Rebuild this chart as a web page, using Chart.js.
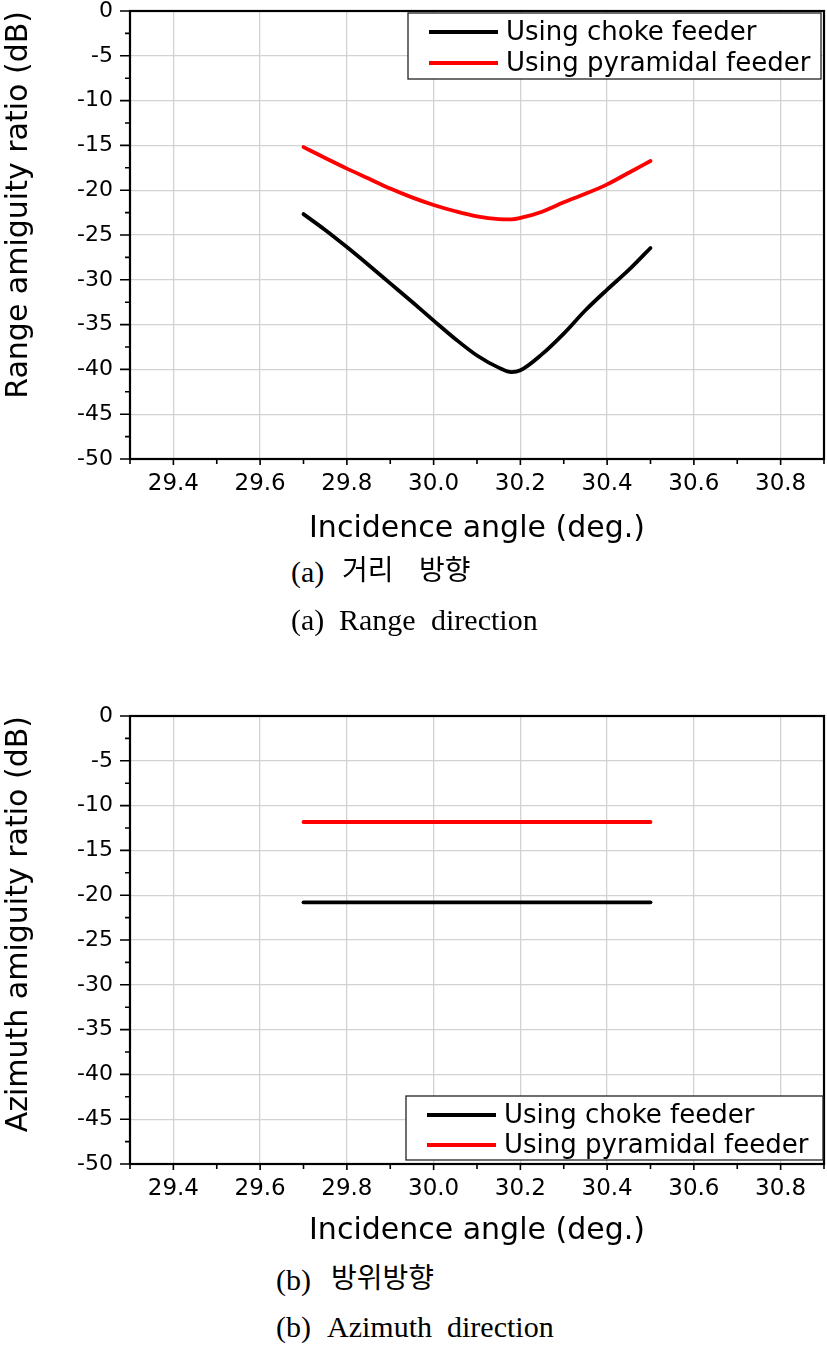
<!DOCTYPE html>
<html><head><meta charset="utf-8">
<script src="https://cdn.jsdelivr.net/npm/chart.js@4"></script>
<style>
body{margin:0;background:#fff;width:827px;height:1345px;position:relative;overflow:hidden}
canvas{position:absolute;left:0}
.w{position:absolute;color:#000;white-space:pre;line-height:1}
.s{font-family:"Liberation Serif","Times New Roman",serif;font-size:30px}
.k{font-family:"Noto Sans CJK KR",sans-serif;font-size:28px}
</style></head><body>
<canvas id="c1" width="827" height="550" style="top:0"></canvas>
<canvas id="c2" width="827" height="547" style="top:705px"></canvas>

<span class="w s" style="left:291px;top:557px">(a)</span>
<span class="w k" style="left:342px;top:554px">거리</span>
<span class="w k" style="left:419px;top:554px">방향</span>
<span class="w s" style="left:291px;top:605px">(a)</span>
<span class="w s" style="left:339px;top:605px">Range</span>
<span class="w s" style="left:431px;top:605px">direction</span>

<span class="w s" style="left:276px;top:1265px">(b)</span>
<span class="w k" style="left:331px;top:1262px">방위방향</span>
<span class="w s" style="left:276px;top:1312px">(b)</span>
<span class="w s" style="left:327px;top:1312px">Azimuth</span>
<span class="w s" style="left:447px;top:1312px">direction</span>

<script>
// ---- data ----
const rangeAngles = [29.7, 29.75, 29.8, 29.85, 29.9, 29.95, 30.0, 30.05, 30.1, 30.15, 30.18, 30.2, 30.25, 30.3, 30.35, 30.4, 30.45, 30.5];
const rangeChoke = [-22.67, -24.44, -26.35, -28.35, -30.4, -32.45, -34.55, -36.6, -38.45, -39.8, -40.3, -40.1, -38.3, -36.0, -33.4, -31.1, -28.9, -26.45];
const rangePyramidal = [-15.19, -16.41, -17.59, -18.70, -19.81, -20.8, -21.65, -22.35, -22.92, -23.22, -23.25, -23.1, -22.4, -21.35, -20.4, -19.35, -18.05, -16.74];

const azAngles = [29.7, 30.5];
const azChoke = [-20.8, -20.8];
const azPyramidal = [-11.83, -11.83];

const seriesLabels = ['Using choke feeder', 'Using pyramidal feeder'];
const xTicks = [29.4, 29.6, 29.8, 30.0, 30.2, 30.4, 30.6, 30.8];
const yTicks = [0, -5, -10, -15, -20, -25, -30, -35, -40, -45, -50];
const xMin = 29.3, xMax = 30.9, yMin = -50, yMax = 0;

// minor tick positions (every 0.1 on x, every 2.5 on y)
const xMinor = []; for (let i = 0; i <= 16; i++) xMinor.push(+(xMin + i * 0.1).toFixed(2));
const yMinor = []; for (let i = 0; i <= 20; i++) yMinor.push(yMax - i * 2.5);

const SANS = '"DejaVu Sans", sans-serif';

const frameTicks = {
  id: 'frameTicks',
  afterDraw(chart) {
    const {ctx, chartArea: a, scales: {x, y}} = chart;
    ctx.save();
    ctx.strokeStyle = '#000';
    ctx.lineWidth = 1.6;
    ctx.beginPath();
    xMinor.forEach(v => {
      const px = x.getPixelForValue(v);
      const major = Math.abs(Math.round(v * 10)) % 2 === 0;
      ctx.moveTo(px, a.bottom); ctx.lineTo(px, a.bottom + (major ? 6 : 5));
    });
    yMinor.forEach(v => {
      const py = y.getPixelForValue(v);
      const major = v % 5 === 0;
      ctx.moveTo(a.left, py); ctx.lineTo(a.left - (major ? 10 : 5), py);
    });
    ctx.stroke();
    ctx.lineWidth = 2.2;
    ctx.strokeRect(a.left, a.top, a.right - a.left, a.bottom - a.top);
    ctx.restore();
  }
};

const boxLegend = {
  id: 'boxLegend',
  afterDraw(chart, args, o) {
    const {ctx, chartArea: a} = chart;
    const left = a.right - o.right - o.w;
    const top = o.corner === 'top' ? a.top + o.offset : a.bottom - o.offset - o.h;
    ctx.save();
    ctx.fillStyle = '#fff';
    ctx.fillRect(left, top, o.w, o.h);
    ctx.strokeStyle = '#222';
    ctx.lineWidth = 1.3;
    ctx.strokeRect(left, top, o.w, o.h);
    ctx.font = '26px ' + SANS;
    ctx.textBaseline = 'middle';
    chart.data.datasets.forEach((ds, i) => {
      const yy = top + o.row0 + i * o.rowGap;
      ctx.strokeStyle = ds.borderColor;
      ctx.lineWidth = 4;
      ctx.beginPath(); ctx.moveTo(left + 21, yy); ctx.lineTo(left + 90, yy); ctx.stroke();
      ctx.fillStyle = '#000';
      ctx.fillText(ds.label, left + 98, yy + 1);
    });
    ctx.restore();
  }
};

function makeChart(id, angles, s1, s2, yTitle, legendOpts, canvasH) {
  const pts = arr => angles.map((a, i) => ({x: a, y: arr[i]}));
  return new Chart(document.getElementById(id), {
    type: 'line',
    data: {
      datasets: [
        {label: seriesLabels[0], data: pts(s1), borderColor: '#000', borderWidth: 3.8, pointRadius: 0, cubicInterpolationMode: 'monotone', borderCapStyle: 'round'},
        {label: seriesLabels[1], data: pts(s2), borderColor: '#ff0000', borderWidth: 3.8, pointRadius: 0, cubicInterpolationMode: 'monotone', borderCapStyle: 'round'}
      ]
    },
    options: {
      responsive: false,
      animation: false,
      layout: {padding: {top: 11, right: 3, left: 0, bottom: 0}},
      plugins: {legend: {display: false}, tooltip: {enabled: false}, boxLegend: legendOpts},
      scales: {
        x: {
          type: 'linear', min: xMin, max: xMax,
          afterBuildTicks: s => { s.ticks = xTicks.map(v => ({value: v})); },
          afterFit: s => { s.height = canvasH - 459; s.paddingLeft = 0; s.paddingRight = 0; },
          grid: {color: '#d2d2d2', lineWidth: 1.3, drawTicks: false},
          border: {display: false},
          ticks: {color: '#000', font: {family: SANS, size: 23}, padding: 11, maxRotation: 0, autoSkip: false,
                  callback: v => Number(v).toFixed(1)},
          title: {display: true, text: 'Incidence angle (deg.)', color: '#000', font: {family: SANS, size: 30}, padding: {top: 0, bottom: 3}}
        },
        y: {
          type: 'linear', min: yMin, max: yMax,
          afterBuildTicks: s => { s.ticks = yTicks.map(v => ({value: v})); },
          afterFit: s => { s.width = 130; s.paddingTop = 0; s.paddingBottom = 0; },
          grid: {color: '#d2d2d2', lineWidth: 1.3, drawTicks: false},
          border: {display: false},
          ticks: {color: '#000', font: {family: SANS, size: 22}, padding: 17, autoSkip: false,
                  callback: v => String(v)},
          title: {display: true, text: yTitle, color: '#000', align: 'end', font: {family: SANS, size: 30}, padding: {top: 1, bottom: 0}}
        }
      }
    },
    plugins: [frameTicks, boxLegend]
  });
}

makeChart('c1', rangeAngles, rangeChoke, rangePyramidal, 'Range amiguity ratio (dB)',
  {corner: 'top', w: 413, h: 66, right: 3, offset: 2, row0: 19, rowGap: 31}, 550);
makeChart('c2', azAngles, azChoke, azPyramidal, 'Azimuth amiguity ratio (dB)',
  {corner: 'bottom', w: 417, h: 64, right: 1, offset: 4, row0: 19, rowGap: 30}, 547);
</script>
</body></html>
